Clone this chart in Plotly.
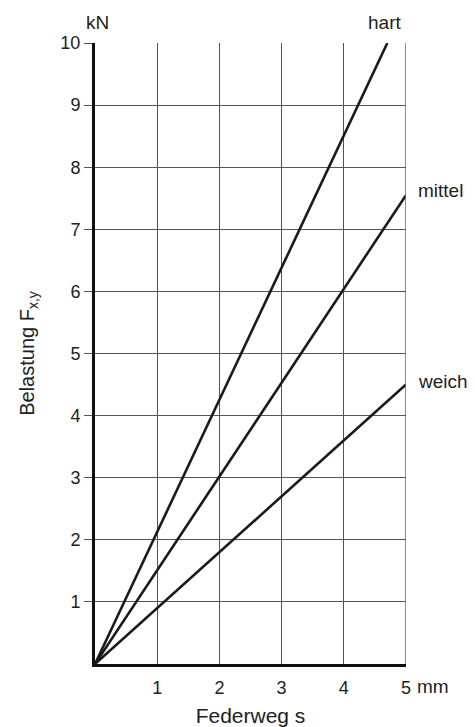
import plotly.graph_objects as go

# Data (Federweg s in mm, Belastung in kN)
series_names = ["hart", "mittel", "weich"]
hart_x = [0, 4.7]
hart_y = [0, 10]
mittel_x = [0, 5]
mittel_y = [0, 7.55]
weich_x = [0, 5]
weich_y = [0, 4.5]
x_ticks = [1, 2, 3, 4, 5]
y_ticks = [1, 2, 3, 4, 5, 6, 7, 8, 9, 10]

FONT = "Liberation Sans, Arial, sans-serif"
TXT = "#222222"

fig = go.Figure()
for xs, ys in [(hart_x, hart_y), (mittel_x, mittel_y), (weich_x, weich_y)]:
    fig.add_trace(go.Scatter(x=xs, y=ys, mode="lines",
                             line=dict(color="#1a1a1a", width=2.6),
                             showlegend=False, hoverinfo="skip", cliponaxis=False))

fig.update_layout(
    width=475, height=727,
    margin=dict(l=95, r=69, t=43, b=63),
    paper_bgcolor="white", plot_bgcolor="white",
    font=dict(family=FONT, size=18, color=TXT),
    showlegend=False,
)
fig.update_xaxes(
    range=[0, 5], tickvals=x_ticks, ticktext=[str(v) for v in x_ticks],
    showgrid=True, gridcolor="#555555", gridwidth=1,
    showline=True, linecolor="#111111", linewidth=3,
    ticks="", zeroline=False, tickfont=dict(size=18, color=TXT),
    ticklabelstandoff=5, automargin=False,
    title=dict(text="Federweg s", font=dict(size=21, color=TXT), standoff=12),
)
fig.update_yaxes(
    range=[0, 10], tickvals=y_ticks, ticktext=[str(v) for v in y_ticks],
    showgrid=True, gridcolor="#555555", gridwidth=1,
    showline=True, linecolor="#111111", linewidth=3,
    ticks="outside", ticklen=8, tickcolor="#555555", tickwidth=1,
    zeroline=False, tickfont=dict(size=18, color=TXT),
    ticklabelstandoff=0, automargin=False,
    title=dict(text="Belastung F<sub>x,y</sub>", font=dict(size=20, color=TXT), standoff=21),
)

fig.add_shape(type="line", xref="x", yref="y", x0=5, x1=5, y0=0, y1=10,
              line=dict(color="#666666", width=1.5))

ann = dict(showarrow=False, font=dict(size=19, color=TXT))
fig.add_annotation(text="kN", xref="x", yref="paper", x=0, y=1, yanchor="bottom",
                   xanchor="center", yshift=8, xshift=2, **ann)
fig.add_annotation(text="hart", xref="x", yref="paper", x=5, y=1, yanchor="bottom",
                   xanchor="right", yshift=8, xshift=-3, **ann)
fig.add_annotation(text="mittel", xref="x", yref="y", x=mittel_x[-1], y=mittel_y[-1],
                   xanchor="left", yanchor="middle", xshift=10, yshift=5, **ann)
fig.add_annotation(text="weich", xref="x", yref="y", x=weich_x[-1], y=weich_y[-1],
                   xanchor="left", yanchor="middle", xshift=10, yshift=3, **ann)
fig.add_annotation(text="mm", xref="x", yref="paper", x=5, y=0, xanchor="left",
                   yanchor="top", xshift=9, yshift=-10, **ann)

fig.write_html("out.html", config={"displayModeBar": False},
               post_script="document.body.style.margin='0';")
